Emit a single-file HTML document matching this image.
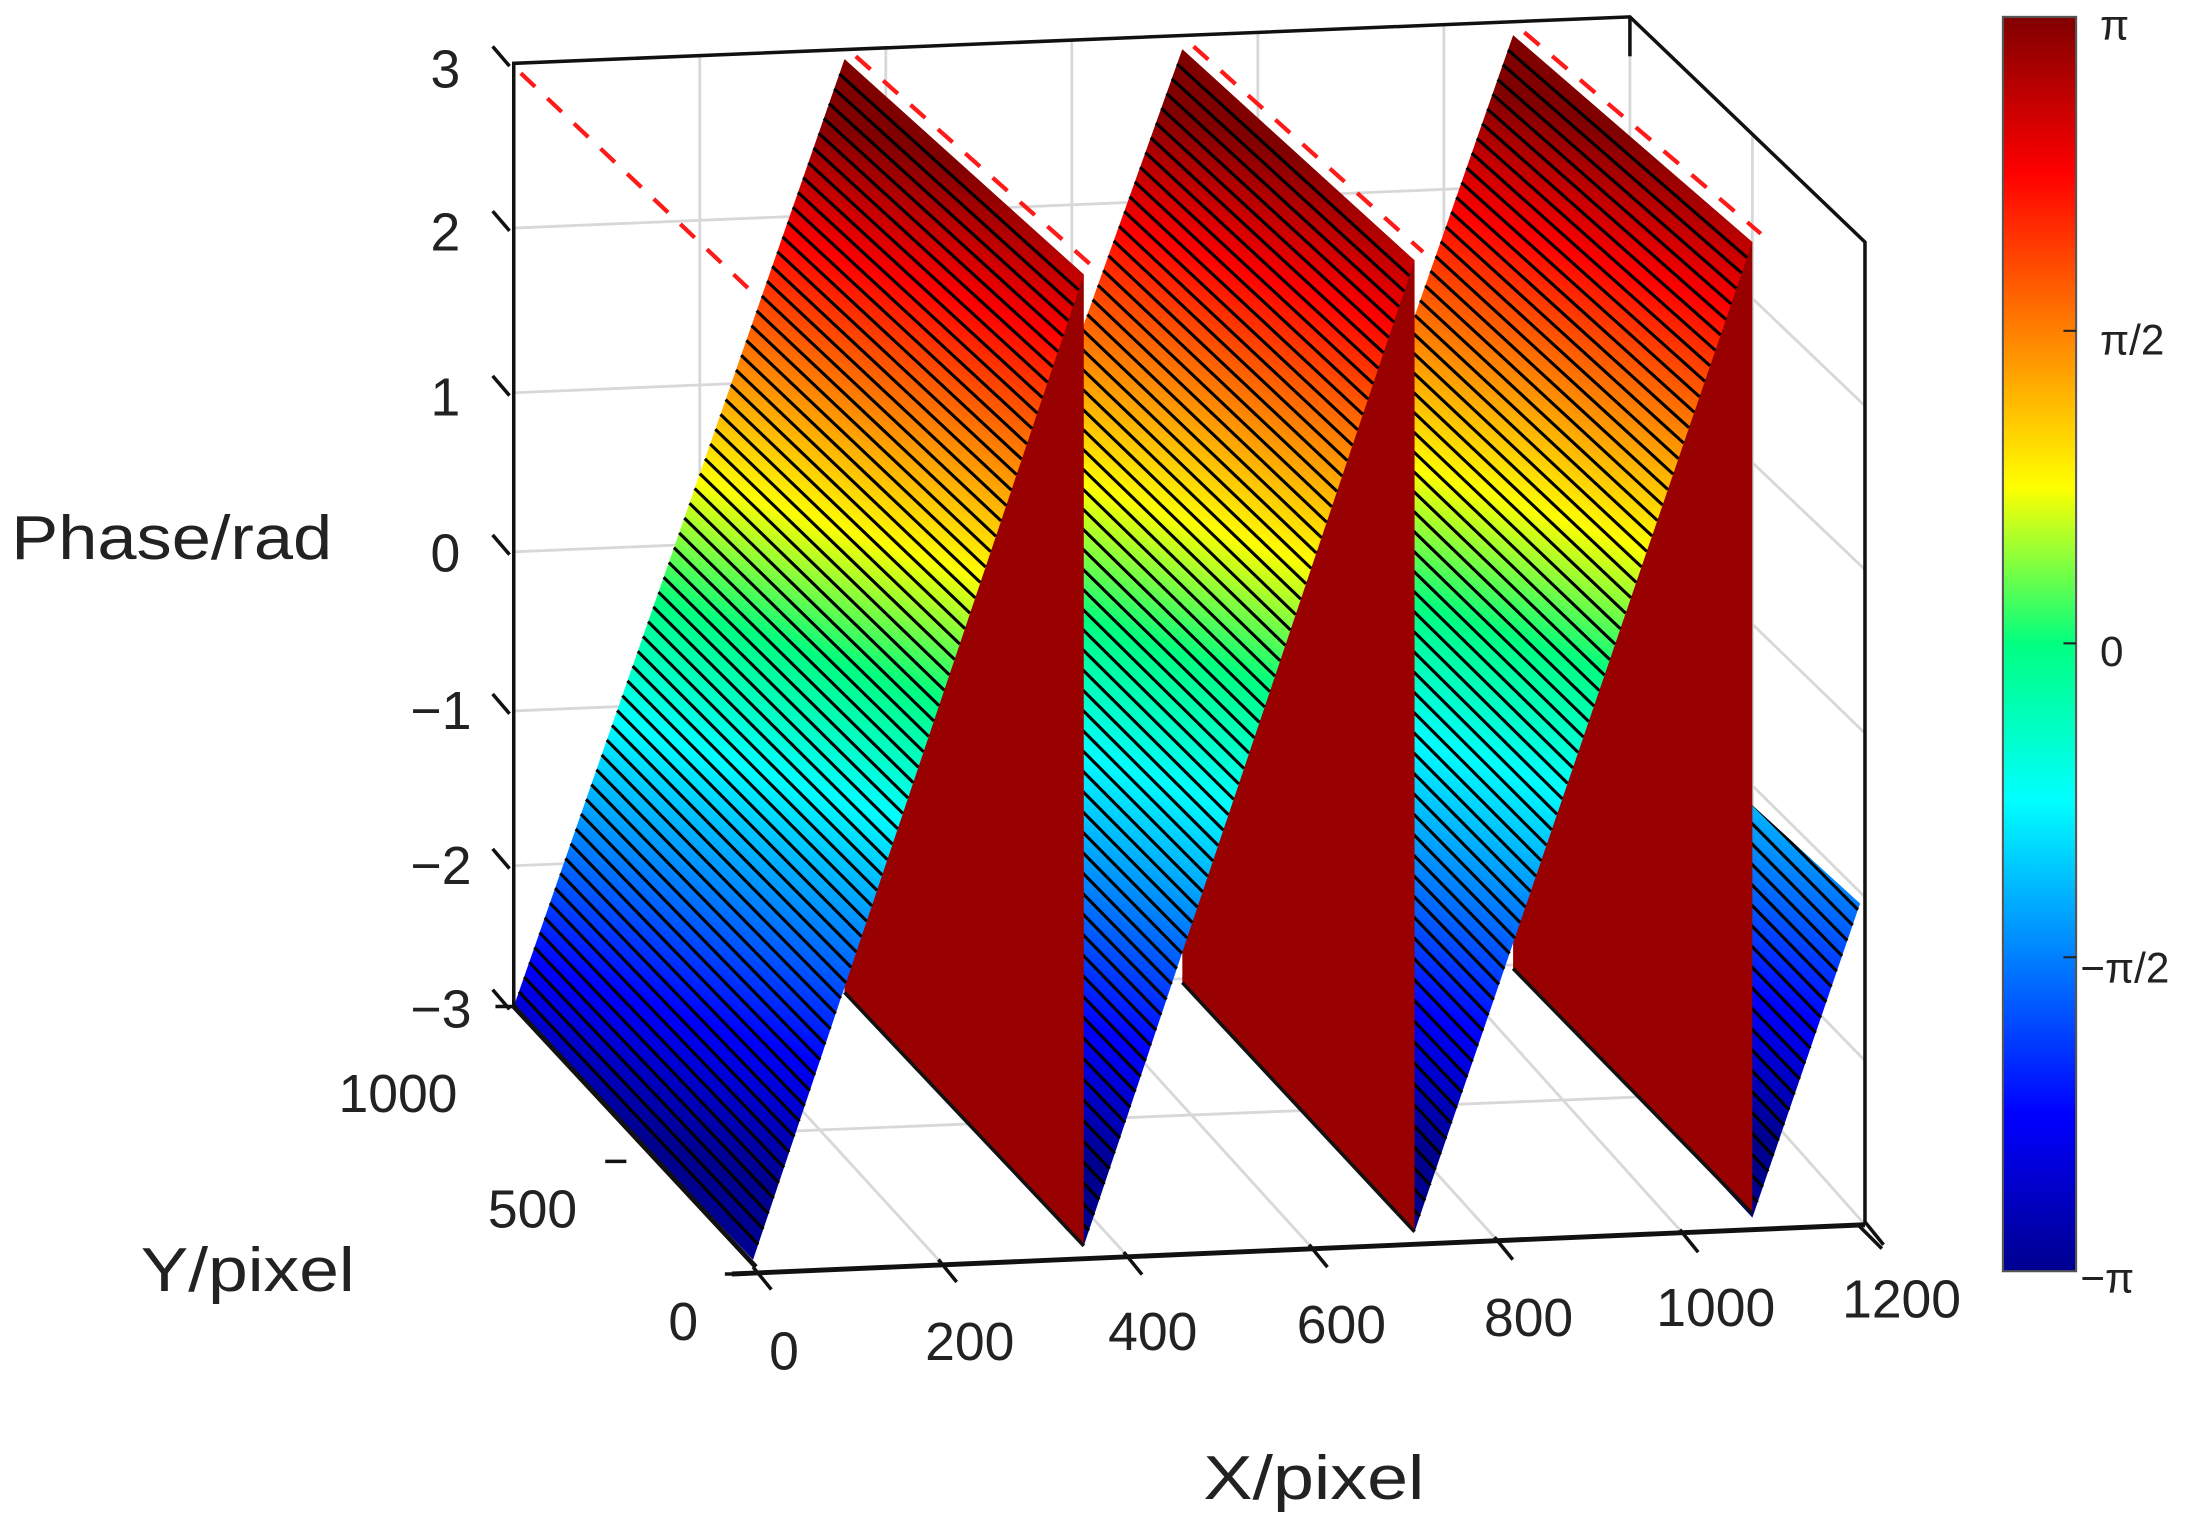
<!DOCTYPE html>
<html><head><meta charset="utf-8"><style>
html,body{margin:0;padding:0;background:#fff}
svg{display:block}
text{font-family:"Liberation Sans",sans-serif;fill:#222}
</style></head><body>
<svg id="s" width="2207" height="1526" viewBox="0 0 1568 1084" preserveAspectRatio="none" xmlns="http://www.w3.org/2000/svg">
<defs></defs>
<g id="grid" stroke="#d8d8d8" stroke-width="2" fill="none"></g>
<g id="surf"></g>
<g id="axes" stroke="#111" fill="none" stroke-width="2.5">
<polyline points="365,715 365,45 1158,12 1325,172 1325,870"/>
<line x1="1158" y1="12" x2="1158" y2="40"/>
<line x1="365" y1="715" x2="537" y2="900" stroke-width="3.5"/>
<line x1="520" y1="905" x2="1325" y2="870" stroke-width="3.5"/>
<line x1="1320" y1="870" x2="1337" y2="887"/>
</g>
<g id="ticks" stroke="#111" stroke-width="2.5" fill="none"></g>
<g font-size="38">
<text x="327" y="62" text-anchor="end">3</text>
<text x="327" y="178" text-anchor="end">2</text>
<text x="327" y="295" text-anchor="end">1</text>
<text x="327" y="406" text-anchor="end">0</text>
<text x="335" y="518" text-anchor="end">−1</text>
<text x="335" y="628" text-anchor="end">−2</text>
<text x="335" y="730" text-anchor="end">−3</text>
<text x="325" y="790" text-anchor="end">1000</text>
<text x="410" y="872" text-anchor="end">500</text>
<text x="496" y="952" text-anchor="end">0</text>
<text x="557" y="973" text-anchor="middle">0</text>
<text x="689" y="966" text-anchor="middle">200</text>
<text x="819" y="959" text-anchor="middle">400</text>
<text x="953" y="954" text-anchor="middle">600</text>
<text x="1086" y="949" text-anchor="middle">800</text>
<text x="1219" y="942" text-anchor="middle">1000</text>
<text x="1351" y="936" text-anchor="middle">1200</text>
</g>
<text x="8" y="397" font-size="44" textLength="228" lengthAdjust="spacingAndGlyphs">Phase/rad</text>
<text x="100" y="917" font-size="44" textLength="152" lengthAdjust="spacingAndGlyphs">Y/pixel</text>
<text x="855" y="1065" font-size="44" textLength="157" lengthAdjust="spacingAndGlyphs">X/pixel</text>
<linearGradient id="cb" x1="0" y1="1" x2="0" y2="0">
<stop offset="0" stop-color="#00008f"/><stop offset="0.125" stop-color="#0000ff"/>
<stop offset="0.375" stop-color="#00ffff"/><stop offset="0.5" stop-color="#00ff80"/><stop offset="0.625" stop-color="#ffff00"/>
<stop offset="0.875" stop-color="#ff0000"/><stop offset="1" stop-color="#800000"/>
</linearGradient>
<rect x="1423" y="12" width="52" height="891" fill="url(#cb)" stroke="#555" stroke-width="1.5"/>
<g stroke="#222" stroke-width="1.5">
<line x1="1466" y1="235" x2="1475" y2="235"/><line x1="1466" y1="457" x2="1475" y2="457"/><line x1="1466" y1="680" x2="1475" y2="680"/>
</g>
<g font-size="30">
<text x="1492" y="28">π</text>
<text x="1492" y="252">π/2</text>
<text x="1492" y="473">0</text>
<text x="1478" y="698">−π/2</text>
<text x="1478" y="918">−π</text>
</g>
</svg>
<script>
const NS="http://www.w3.org/2000/svg";
function el(p,t,a){const e=document.createElementNS(NS,t);for(const k in a)e.setAttribute(k,a[k]);p.appendChild(e);return e;}
const grid=document.getElementById('grid'),surf=document.getElementById('surf'),ticks=document.getElementById('ticks');
const defs=document.querySelector('defs');
const zy=[45,162,279,392,505,615,715];
zy.forEach((y,k)=>{ if(k==0||k==6)return; el(grid,'line',{x1:365,y1:y,x2:1158,y2:y-33}); el(grid,'line',{x1:1158,y1:y-33,x2:1325,y2:172+k*116.3});});
for(let i=1;i<6;i++){const x=365+i*793/6; el(grid,'line',{x1:x,y1:45-i*5.5,x2:x,y2:715-i*5.5});}
el(grid,'line',{x1:1158,y1:12,x2:1158,y2:682});
el(grid,'line',{x1:365,y1:715,x2:1158,y2:682});
el(grid,'line',{x1:1158,y1:682,x2:1325,y2:870});
for(let i=1;i<6;i++){el(grid,'line',{x1:365+i*793/6,y1:715-i*5.5,x2:535+i*790/6,y2:900-i*5.3});}
el(grid,'line',{x1:450,y1:808,x2:1245,y2:776});
el(grid,'line',{x1:1245,y1:95,x2:1245,y2:778});
zy.forEach(y=>el(ticks,'polyline',{points:`350,${y-12} 362,${y+2}`}));
[[352,715],[430,825],[515,905]].forEach(p=>el(ticks,'line',{x1:p[0],y1:p[1],x2:p[0]+15,y2:p[1]}));
for(let i=0;i<7;i++){const x=535+i*131.7,y=900-i*5.3; el(ticks,'line',{x1:x,y1:y,x2:x+13,y2:y+16});}
function jet(id,b,t){const g=el(defs,'linearGradient',{id:id,gradientUnits:'userSpaceOnUse',x1:b[0],y1:b[1],x2:t[0],y2:t[1]});
[[0,'#00008f'],[0.125,'#0000ff'],[0.375,'#00ffff'],[0.5,'#00ff80'],[0.625,'#ffff00'],[0.875,'#ff0000'],[1,'#800000']].forEach(s=>el(g,'stop',{offset:s[0],'stop-color':s[1]}));}
const L=(a,b,t)=>[a[0]+(b[0]-a[0])*t,a[1]+(b[1]-a[1])*t];
const N=64, SW=2.2;
function ramp(id,B0,B1,T0,T1){
  jet(id,L(B0,B1,.5),L(T0,T1,.5));
  el(surf,'polygon',{points:[B0,B1,T1,T0].map(p=>p.join(',')).join(' '),fill:`url(#${id})`});
  for(let i=1;i<N;i++){const t=i/N;const a=L(B0,T0,t),b=L(B1,T1,t);el(surf,'line',{x1:a[0],y1:a[1],x2:b[0],y2:b[1],stroke:'#000','stroke-width':SW});}
}
function wall(r){const T0=r[2],T1=r[3];const B0=[T0[0],T0[1]+663],B1=[T1[0],T1[1]+690];
 el(surf,'polygon',{points:[T0,T1,B1,B0].map(p=>p.join(',')).join(' '),fill:'#990000'});
 el(surf,'line',{x1:B0[0],y1:B0[1],x2:B1[0],y2:B1[1],stroke:'#111','stroke-width':2.5});}
const R=[
 [[365,715],[535,895],[600,42],[770,195]],
 [[600,705],[770,885],[840,35],[1005,185]],
 [[840,695],[1005,875],[1075,25],[1245,172]],
];
(function(){const B0=[1080,688],B1=[1245,865],T0=[1315,18],T1=[1485,165];
 jet('r4',L(B0,B1,.5),L(T0,T1,.5));
 const pts=[[1245,865],[1250,862],[1325,645],[1245,572],[1160,495],[1080,688]];
 const cp=el(defs,'clipPath',{id:'c4'});el(cp,'polygon',{points:pts.map(p=>p.join(',')).join(' ')});
 const g=el(surf,'g',{'clip-path':'url(#c4)'});
 el(g,'polygon',{points:[B0,B1,T1,T0].map(p=>p.join(',')).join(' '),fill:'url(#r4)'});
 for(let i=1;i<N;i++){const t=i/N;const a=L(B0,T0,t),b=L(B1,T1,t);el(g,'line',{x1:a[0],y1:a[1],x2:b[0],y2:b[1],stroke:'#000','stroke-width':SW});}
})();
wall(R[2]);ramp('r3',...R[2]);
wall(R[1]);ramp('r2',...R[1]);
wall(R[0]);ramp('r1',...R[0]);
const dash={stroke:'#ff1a1a','stroke-width':3,'stroke-dasharray':'14 12',fill:'none'};
el(surf,'line',Object.assign({x1:370,y1:52,x2:535,y2:208},dash));
R.forEach(r=>el(surf,'line',Object.assign({x1:r[2][0]+8,y1:r[2][1]-2,x2:r[3][0]+6,y2:r[3][1]-6},dash)));
</script>
</body></html>
